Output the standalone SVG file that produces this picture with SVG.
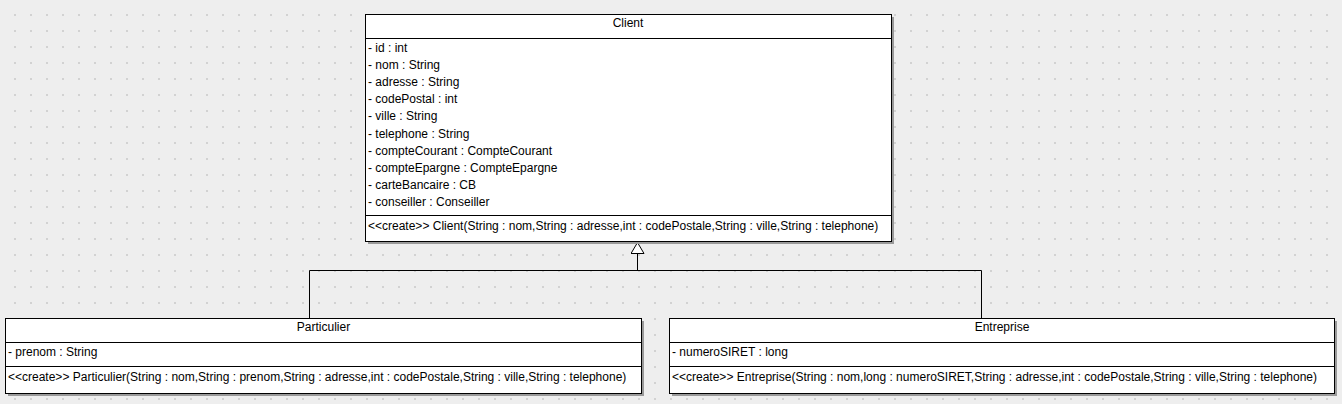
<svg xmlns="http://www.w3.org/2000/svg" width="1342" height="404" viewBox="0 0 1342 404">
<style>
text{font-family:"Liberation Sans",Arial,sans-serif;font-size:12px;fill:#000}
.t{text-anchor:middle}
.box{fill:#fff;stroke:#000;stroke-width:1}
.sh{fill:#9a9a9a}
.sep{stroke:#000;stroke-width:1}
.conn{fill:none;stroke:#000;stroke-width:1}
</style>
<defs>
<pattern id="grid" patternUnits="userSpaceOnUse" x="0" y="0" width="16" height="16">
<rect x="14" y="14" width="2" height="2" fill="#d2d2d2"/>
</pattern>
<marker id="inh" markerUnits="userSpaceOnUse" viewBox="0 0 12 14" refX="12" refY="7" markerWidth="12" markerHeight="14" orient="auto">
<path d="M0.5,0.5 L11.5,7 L0.5,13.5 Z" fill="#fff" stroke="#000" stroke-width="1"/>
</marker>
</defs>
<rect width="1342" height="404" fill="#eeeeee"/>
<rect width="1342" height="404" fill="url(#grid)"/>
<g id="connectors">
<path class="conn" d="M309.5,318 V270.5 H981.5 V318"/>
<path class="conn" d="M637.5,270.5 V242" marker-end="url(#inh)"/>
</g>
<g id="Client">
<rect class="sh" x="368" y="17" width="526" height="227"/>
<rect class="box" x="365.5" y="14.5" width="526" height="227"/>
<line class="sep" x1="365" y1="38.5" x2="892" y2="38.5"/>
<line class="sep" x1="365" y1="215.5" x2="892" y2="215.5"/>
<text class="t" x="628" y="27">Client</text>
<text x="368" y="52">- id : int</text>
<text x="368" y="69.1">- nom : String</text>
<text x="368" y="86.2">- adresse : String</text>
<text x="368" y="103.3">- codePostal : int</text>
<text x="368" y="120.4">- ville : String</text>
<text x="368" y="137.5">- telephone : String</text>
<text x="368" y="154.6">- compteCourant : CompteCourant</text>
<text x="368" y="171.7">- compteEpargne : CompteEpargne</text>
<text x="368" y="188.8">- carteBancaire : CB</text>
<text x="368" y="205.9">- conseiller : Conseiller</text>
<text x="368" y="229.5">&lt;&lt;create&gt;&gt; Client(String : nom,String : adresse,int : codePostale,String : ville,String : telephone)</text>
</g>
<g id="Particulier">
<rect class="sh" x="8" y="321" width="636" height="75"/>
<rect class="box" x="5.5" y="318.5" width="636" height="75"/>
<line class="sep" x1="5" y1="342.5" x2="642" y2="342.5"/>
<line class="sep" x1="5" y1="366.5" x2="642" y2="366.5"/>
<text class="t" x="323.5" y="331">Particulier</text>
<text x="8" y="356">- prenom : String</text>
<text x="8" y="380.5">&lt;&lt;create&gt;&gt; Particulier(String : nom,String : prenom,String : adresse,int : codePostale,String : ville,String : telephone)</text>
</g>
<g id="Entreprise">
<rect class="sh" x="672" y="321" width="665" height="75"/>
<rect class="box" x="669.5" y="318.5" width="665" height="75"/>
<line class="sep" x1="669" y1="342.5" x2="1335" y2="342.5"/>
<line class="sep" x1="669" y1="366.5" x2="1335" y2="366.5"/>
<text class="t" x="1002" y="331">Entreprise</text>
<text x="672" y="356">- numeroSIRET : long</text>
<text x="672" y="380.5">&lt;&lt;create&gt;&gt; Entreprise(String : nom,long : numeroSIRET,String : adresse,int : codePostale,String : ville,String : telephone)</text>
</g>
</svg>
